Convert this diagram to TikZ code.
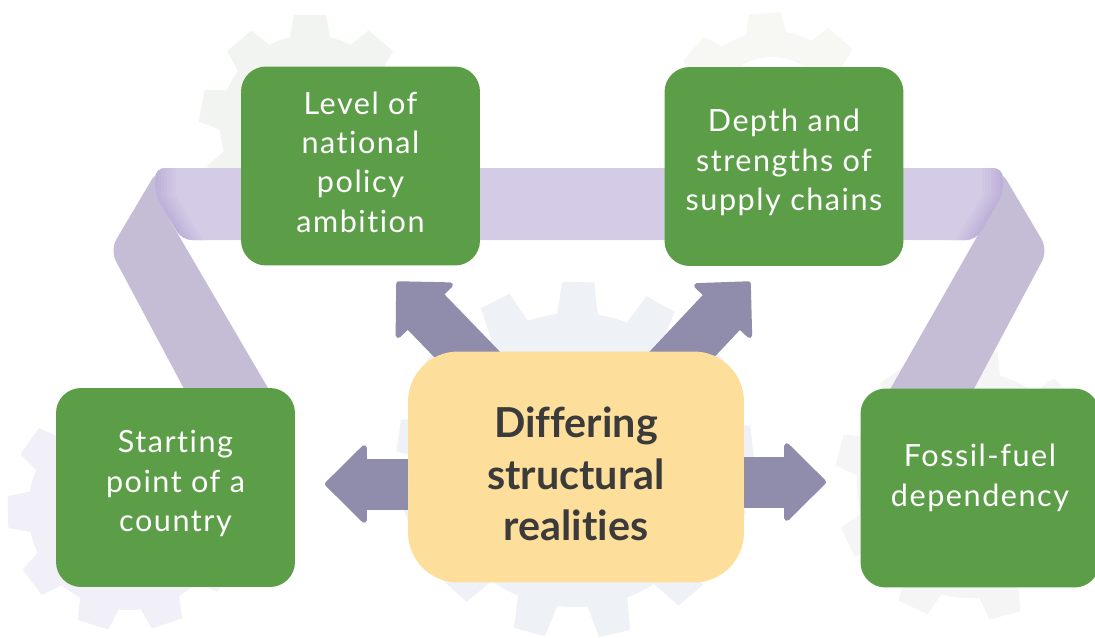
\documentclass[tikz,border=0pt]{standalone}
\usepackage{fontspec}
\setmainfont{Lato}[Ligatures=NoCommon]
\newfontfamily\boxfont[LetterSpace=5,Ligatures=NoCommon]{Lato}
\usetikzlibrary{arrows.meta}
\usepackage{xcolor}
\definecolor{boxgreen}{RGB}{92,158,72}
\definecolor{hubyellow}{RGB}{253,222,154}
\definecolor{hubtext}{RGB}{59,59,59}
\definecolor{arrowgrey}{RGB}{144,140,171}
\definecolor{bandlilac}{RGB}{212,204,230}
\definecolor{striplilac}{RGB}{197,189,214}
\definecolor{foldlilac}{RGB}{190,176,216}
\definecolor{cogA}{RGB}{242,244,241}
\definecolor{cogB}{RGB}{247,247,244}
\definecolor{cogC}{RGB}{238,242,247}
\definecolor{cogD}{RGB}{241,240,248}
\definecolor{cogE}{RGB}{246,245,246}
\pgfdeclarelayer{bg}
\pgfdeclarelayer{mid}
\pgfsetlayers{bg,mid,main}
\newcommand{\drawcog}[8]{%
  \begin{scope}[shift={(#2,#3)}]
    \fill[#1,even odd rule] (0,0) circle (#4) (0,0) circle (#8);
    \foreach \k in {1,...,#6}{\fill[#1,rotate={-(#7+\k*360/#6)}] (-21,-#4+6)--(-16,-#5)--(16,-#5)--(21,-#4+6)--cycle;}
  \end{scope}%
}

\begin{document}
\begin{tikzpicture}[x=0.02cm,y=-0.02cm,
  box/.style={fill=boxgreen,rounded corners=0.5cm,minimum width=4.78cm,minimum height=3.98cm,inner sep=0pt},
  boxtext/.style={text=white,align=center,font=\boxfont\fontsize{17.4}{22.4}\selectfont},
  hub/.style={fill=hubyellow,rounded corners=1cm,minimum width=6.72cm,minimum height=4.62cm,inner sep=0pt},
  hubtext/.style={align=center,text=hubtext,font=\bfseries\fontsize{23.5}{29.2}\selectfont},
  bigarrow/.style={draw=arrowgrey,line width=1.02cm,-{Triangle[length=0.86cm,width=1.68cm,round,line width=3pt]}}]
\useasboundingbox (0,0) rectangle (1095,637);
\node[box] (level) at (360.5,166) {};
\node[box] (depth) at (784,166.5) {};
\node[box] (start) at (175.5,487.5) {};
\node[box] (fossil) at (980,488) {};
\node[hub] (hub) at (576,467) {};
\node[hubtext] (hubtxt) at ([yshift=-0.14cm]hub.center) {Differing\\structural\\realities};
\node[boxtext] (leveltext) at ([yshift=0.08cm]level.center) {Level of\\national\\policy\\ambition};
\node[boxtext] (depthtext) at ([yshift=0.08cm]depth.center) {Depth and\\strengths of\\supply chains};
\node[boxtext] (starttext) at ([yshift=0.08cm]start.center) {Starting\\point of a\\country};
\node[boxtext] (fossiltext) at ([yshift=0.2cm]fossil.center) {Fossil-fuel\\dependency};
\coordinate (tipL) at (397,282);
\coordinate (tipD) at (750,282);
\coordinate (tipS) at (325,484);
\coordinate (tipF) at (826,482);
\begin{pgfonlayer}{mid}
\draw[bigarrow] (hub.center) -- (tipL);
\draw[bigarrow] (hub.center) -- (tipD);
\draw[bigarrow] (hub.center |- tipS) -- (tipS);
\draw[bigarrow] (hub.center |- tipF) -- (tipF);
\end{pgfonlayer}
\begin{pgfonlayer}{bg}
\drawcog{cogA}{310}{125}{90}{110}{9}{0}{50}
\drawcog{cogB}{772}{117}{86}{104}{8}{-4}{60}
\drawcog{cogC}{575}{460}{147}{178}{13}{1}{80}
\drawcog{cogD}{128}{510}{100}{120}{10}{17}{55}
\drawcog{cogE}{970}{485}{113}{135}{9}{5}{60}
\fill[striplilac,rounded corners=0.25cm] (165,212) -- (158,169) -- (110,250) -- (190,400) -- (275,400) -- cycle;
\fill[striplilac,rounded corners=0.25cm] (991,212) -- (1000,169) -- (1048,250) -- (968,400) -- (884,400) -- cycle;
\begin{scope}
\clip[rounded corners=0.2cm] (182,240) -- (155,195) -- (155,168) -- (1003,168) -- (1003,195) -- (976,240) -- cycle;
\fill[bandlilac] (100,150) rectangle (1050,250);
\foreach \i in {0,...,7}{
  \pgfmathtruncatemacro{\p}{\i*14}
  \fill[bandlilac!\p!foldlilac] (155+\i*3,160) -- (155+\i*3,195) -- (182+\i*3,240) -- (186+\i*3,240) -- (159+\i*3,195) -- (159+\i*3,160) -- cycle;
  \fill[bandlilac!\p!foldlilac] (1003-\i*3,160) -- (1003-\i*3,195) -- (976-\i*3,240) -- (972-\i*3,240) -- (999-\i*3,195) -- (999-\i*3,160) -- cycle;
}
\end{scope}
\end{pgfonlayer}
\end{tikzpicture}
\end{document}
